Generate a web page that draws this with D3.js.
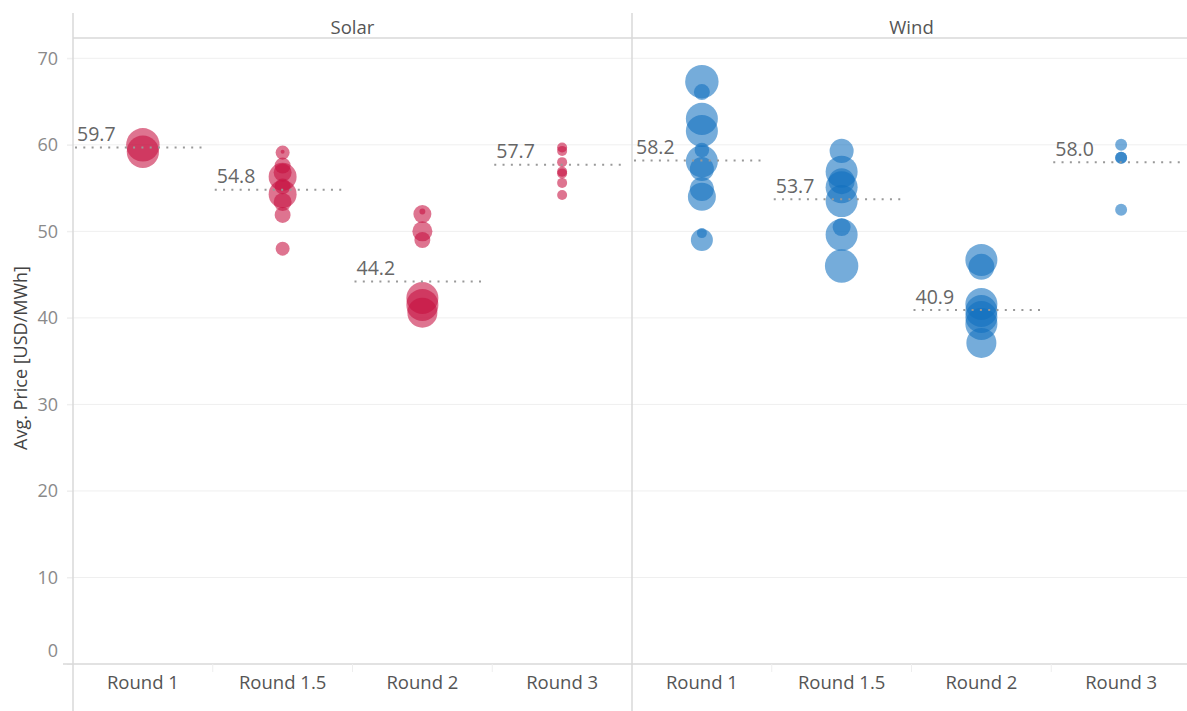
<!DOCTYPE html>
<html><head><meta charset="utf-8">
<script src="https://cdn.jsdelivr.net/npm/d3@7"></script>
<style>
html,body{margin:0;padding:0;background:#fff;}
svg{display:block;font-family:"Open Sans",sans-serif;}
</style></head>
<body><svg id="chart" width="1187" height="711"></svg>
<script>
const panels = ["Solar", "Wind"];
const rounds = ["Round 1", "Round 1.5", "Round 2", "Round 3"];
const yTicks = [0, 10, 20, 30, 40, 50, 60, 70];

// Avg. price per auction (USD/MWh) by round
const solarPrices = [
  [60.0, 59.2],
  [59.1, 57.6, 56.8, 56.3, 55.2, 54.3, 53.4, 51.9, 48.0, 59.2],
  [52.0, 52.3, 50.0, 49.0, 42.3, 41.5, 40.6],
  [59.7, 59.3, 58.0, 56.9, 56.7, 55.6, 54.2]
];
// bubble size (capacity, MW)
const solarSizes = [
  [290, 270],
  [51, 66, 84, 203, 66, 203, 84, 66, 51, 4],
  [84, 9, 104, 66, 266, 266, 234],
  [26, 26, 26, 26, 26, 26, 26]
];
const windPrices = [
  [67.3, 66.1, 63.0, 61.6, 59.4, 58.1, 57.2, 54.9, 54.0, 49.8, 49.0],
  [59.3, 56.9, 55.8, 55.1, 53.5, 50.5, 49.6, 46.0],
  [46.7, 45.9, 41.6, 40.8, 40.1, 39.3, 37.1],
  [60.0, 58.5, 58.5, 52.5]
];
const windSizes = [
  [290, 66, 266, 266, 55, 266, 150, 150, 203, 26, 126],
  [150, 266, 175, 266, 266, 84, 266, 290],
  [266, 175, 266, 266, 266, 266, 234],
  [37, 37, 37, 37]
];
const solarMeans = [59.7, 54.8, 44.2, 57.7];
const windMeans = [58.2, 53.7, 40.9, 58.0];

const prices = {Solar: solarPrices, Wind: windPrices};
const sizes = {Solar: solarSizes, Wind: windSizes};
const means = {Solar: solarMeans, Wind: windMeans};
const colors = {Solar: "#c70f3f", Wind: "#1170c0"};

const svg = d3.select("#chart");
const mLeft = 73, mRight = 1191, mTop = 13, headerBottom = 38, mBottom = 664;

const xPanel = d3.scaleBand().domain(panels).range([mLeft, mRight]);
const xRound = d3.scaleBand().domain(rounds).range([0, xPanel.bandwidth()]);
const y = d3.scaleLinear().domain([0, 70]).range([mBottom, 58.3]);
const r = d3.scaleSqrt().domain([0, 300]).range([0, 17]);

const lineCol = "#d9d9d9";

// gridlines
svg.append("g").selectAll("line").data(yTicks.filter(d => d > 0)).join("line")
  .attr("x1", 67).attr("x2", 1187)
  .attr("y1", d => y(d)).attr("y2", d => y(d))
  .attr("stroke", "#efefef").attr("stroke-width", 1);

// y axis
const yAxis = svg.append("g").attr("transform", `translate(${mLeft},0)`)
  .call(d3.axisLeft(y).tickValues(yTicks).tickSize(6).tickPadding(9));
yAxis.select(".domain").remove();
yAxis.selectAll(".tick line").attr("stroke", "#efefef");
yAxis.selectAll(".tick text")
  .attr("fill", "#8a8a8a").style("font-size", "18px").style("font-family", "Open Sans")
  .attr("dy", d => d === 0 ? "-0.42em" : "0.32em");

// header line, bottom axis line, frame lines
svg.append("line").attr("x1", mLeft).attr("x2", 1187).attr("y1", headerBottom).attr("y2", headerBottom)
  .attr("stroke", lineCol).attr("stroke-width", 1.5);
svg.append("line").attr("x1", 63).attr("x2", 1187).attr("y1", mBottom).attr("y2", mBottom)
  .attr("stroke", lineCol).attr("stroke-width", 1.5);
svg.append("line").attr("x1", mLeft).attr("x2", mLeft).attr("y1", mTop).attr("y2", 711)
  .attr("stroke", lineCol).attr("stroke-width", 1.5);
svg.append("line").attr("x1", xPanel("Wind")).attr("x2", xPanel("Wind")).attr("y1", mTop).attr("y2", 711)
  .attr("stroke", lineCol).attr("stroke-width", 1.5);

// y title
svg.append("text")
  .attr("transform", "translate(20,358) rotate(-90)")
  .attr("text-anchor", "middle").attr("dominant-baseline", "central")
  .attr("fill", "#444").style("font-size", "18px")
  .text("Avg. Price [USD/MWh]");

panels.forEach(p => {
  const g = svg.append("g").attr("transform", `translate(${xPanel(p)},0)`);
  // header
  g.append("text").attr("x", xPanel.bandwidth() / 2).attr("y", 26)
    .attr("text-anchor", "middle").attr("dominant-baseline", "central")
    .attr("fill", "#555").style("font-size", "18.5px").text(p);

  // x axis
  const xa = g.append("g").attr("transform", `translate(0,${mBottom})`)
    .call(d3.axisBottom(xRound).tickSize(0).tickPadding(12));
  xa.select(".domain").remove();
  xa.selectAll(".tick text").attr("fill", "#555").style("font-size", "18.5px").style("font-family", "Open Sans");
  // category separators
  g.append("g").selectAll("line").data(rounds.slice(1)).join("line")
    .attr("x1", d => xRound(d)).attr("x2", d => xRound(d))
    .attr("y1", mBottom).attr("y2", mBottom + 8)
    .attr("stroke", "#eee").attr("stroke-width", 1);

  rounds.forEach((rd, i) => {
    const cx = xRound(rd) + xRound.bandwidth() / 2;
    const pts = prices[p][i].map((v, k) => ({v, s: sizes[p][i][k]}))
      .sort((a, b) => b.s - a.s);
    g.append("g").selectAll("circle").data(pts).join("circle")
      .attr("cx", cx).attr("cy", d => y(d.v)).attr("r", d => r(d.s))
      .attr("fill", colors[p]).attr("fill-opacity", 0.58);
    const m = means[p][i];
    g.append("line")
      .attr("x1", xRound(rd) + 2).attr("x2", xRound(rd) + xRound.bandwidth() - 5)
      .attr("y1", y(m)).attr("y2", y(m))
      .attr("stroke", "#999").attr("stroke-width", 2).attr("stroke-dasharray", "2,6.3");
    g.append("text").attr("x", xRound(rd) + 4).attr("y", y(m) - 14)
      .attr("dominant-baseline", "central")
      .attr("fill", "#666").style("font-size", "19.5px").text(m.toFixed(1));
  });
});
</script></body></html>
